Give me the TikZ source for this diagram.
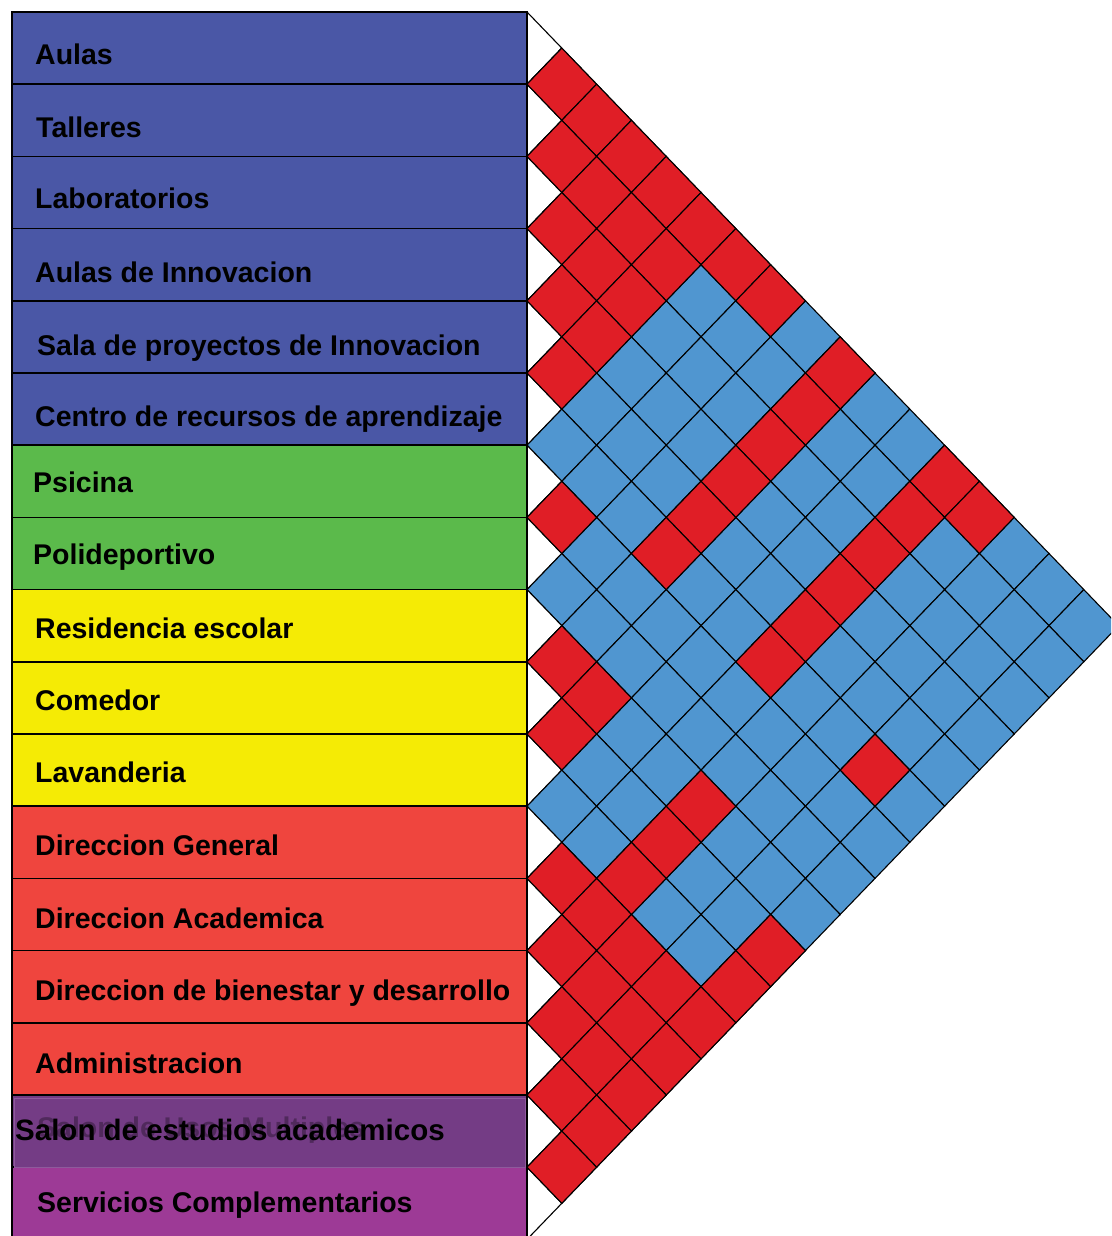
\documentclass[tikz,border=0pt]{standalone}
\usepackage{fontspec}
\setmainfont{Liberation Sans}
\definecolor{boxblue}{HTML}{4A57A6}
\definecolor{boxgreen}{HTML}{5BBA4B}
\definecolor{boxyellow}{HTML}{F5EB05}
\definecolor{boxred}{HTML}{EF453E}
\definecolor{boxdpurple}{HTML}{743C85}
\definecolor{boxdpurpleedge}{HTML}{8E5A9C}
\definecolor{boxpurple}{HTML}{9D3A96}
\definecolor{cellred}{HTML}{E01E26}
\definecolor{cellblue}{HTML}{5096D0}
\newcommand\dcell[3]{%
  \pgfmathsetmacro\cx{527+34.8*(#2-#1)}%
  \pgfmathsetmacro\cy{48.1+36.1*(#1+#2)}%
  \filldraw[cell,fill=#3] (\cx-34.8,\cy) -- (\cx,\cy-36.1) -- (\cx+34.8,\cy) -- (\cx,\cy+36.1) -- cycle;}
\begin{document}
\begin{tikzpicture}[x=1pt,y=-1pt,
  cell/.style={draw=black,line width=1.1pt,line join=miter},
  rowbox/.style={draw=black,line width=1.6pt,minimum width=515pt,minimum height=72.2pt,anchor=north west,inner sep=0pt,outer sep=0pt},
  lbl/.style={anchor=base west,inner sep=0pt,font=\fontsize{28.5}{30}\selectfont\bfseries}]
\useasboundingbox (0,0) rectangle (1111,1236);
\clip (0,0) rectangle (1111,1236);
% relation matrix: blue cells, white half cells on the diagonal
\foreach \i in {0,...,16}{
  \foreach \j in {\i,...,16}{
    \ifnum\i=\j \dcell{\i}{\j}{white}\else\dcell{\i}{\j}{cellblue}\fi
  }
}
% red cells
\foreach \a/\b in {0/1,0/2,1/2,0/3,1/3,0/4,2/3,1/4,0/5,2/4,1/5,0/6,3/4,2/5,0/7,3/5,
  4/5,0/9,1/9,2/9,3/9,0/12,6/7,4/9,1/12,0/13,5/9,2/12,3/12,4/12,8/9,5/12,8/10,9/10,
  5/15,8/13,9/13,11/12,10/13,11/13,12/13,11/14,9/16,12/14,11/15,10/16,13/14,12/15,
  11/16,13/15,12/16,14/15,13/16,14/16,15/16}{
  \dcell{\a}{\b}{cellred}
}
% row boxes
\node[rowbox,fill=boxblue] (b0) at (12,12) {};
\node[rowbox,fill=boxblue] (b1) at (12,84.2) {};
\node[rowbox,fill=boxblue] (b2) at (12,156.4) {};
\node[rowbox,fill=boxblue] (b3) at (12,228.6) {};
\node[rowbox,fill=boxblue] (b4) at (12,300.8) {};
\node[rowbox,fill=boxblue] (b5) at (12,373) {};
\node[rowbox,fill=boxgreen] (b6) at (12,445.2) {};
\node[rowbox,fill=boxgreen] (b7) at (12,517.4) {};
\node[rowbox,fill=boxyellow] (b8) at (12,589.6) {};
\node[rowbox,fill=boxyellow] (b9) at (12,661.8) {};
\node[rowbox,fill=boxyellow] (b10) at (12,734) {};
\node[rowbox,fill=boxred] (b11) at (12,806.2) {};
\node[rowbox,fill=boxred] (b12) at (12,878.4) {};
\node[rowbox,fill=boxred] (b13) at (12,950.6) {};
\node[rowbox,fill=boxred] (b14) at (12,1022.8) {};
\node[rowbox,fill=boxdpurple] (b15) at (12,1095) {};
\node[rowbox,fill=boxpurple] (b16) at (12,1167.2) {};
\node[draw=boxdpurpleedge,line width=1.2pt,fill=boxdpurple,minimum width=511pt,minimum height=69pt,anchor=north west,inner sep=0pt] (b15in) at (13.5,1097.5) {};
% labels
\node[lbl] (t0) at (35,65) {Aulas};
\node[lbl] (t1) at (36,137) {Talleres};
\node[lbl] (t2) at (35,208) {Laboratorios};
\node[lbl] (t3) at (35,282) {Aulas de Innovacion};
\node[lbl] (t4) at (37,355) {Sala de proyectos de Innovacion};
\node[lbl] (t5) at (35,426) {Centro de recursos de aprendizaje};
\node[lbl] (t6) at (33,492) {Psicina};
\node[lbl] (t7) at (33,564) {Polideportivo};
\node[lbl] (t8) at (35,638) {Residencia escolar};
\node[lbl] (t9) at (35,710) {Comedor};
\node[lbl] (t10) at (35,782) {Lavanderia};
\node[lbl] (t11) at (35,855) {Direccion General};
\node[lbl] (t12) at (35,928) {Direccion Academica};
\node[lbl] (t13) at (35,1000) {Direccion de bienestar y desarrollo};
\node[lbl] (t14) at (35,1073) {Administracion};
\node[lbl,opacity=0.3] (t15g) at (37,1137) {Salon de Usos Multiples};
\node[lbl,font=\fontsize{29.5}{31}\selectfont\bfseries] (t15) at (15,1140) {Salon de estudios academicos};
\node[lbl] (t16) at (37,1212) {Servicios Complementarios};
\end{tikzpicture}
\end{document}
